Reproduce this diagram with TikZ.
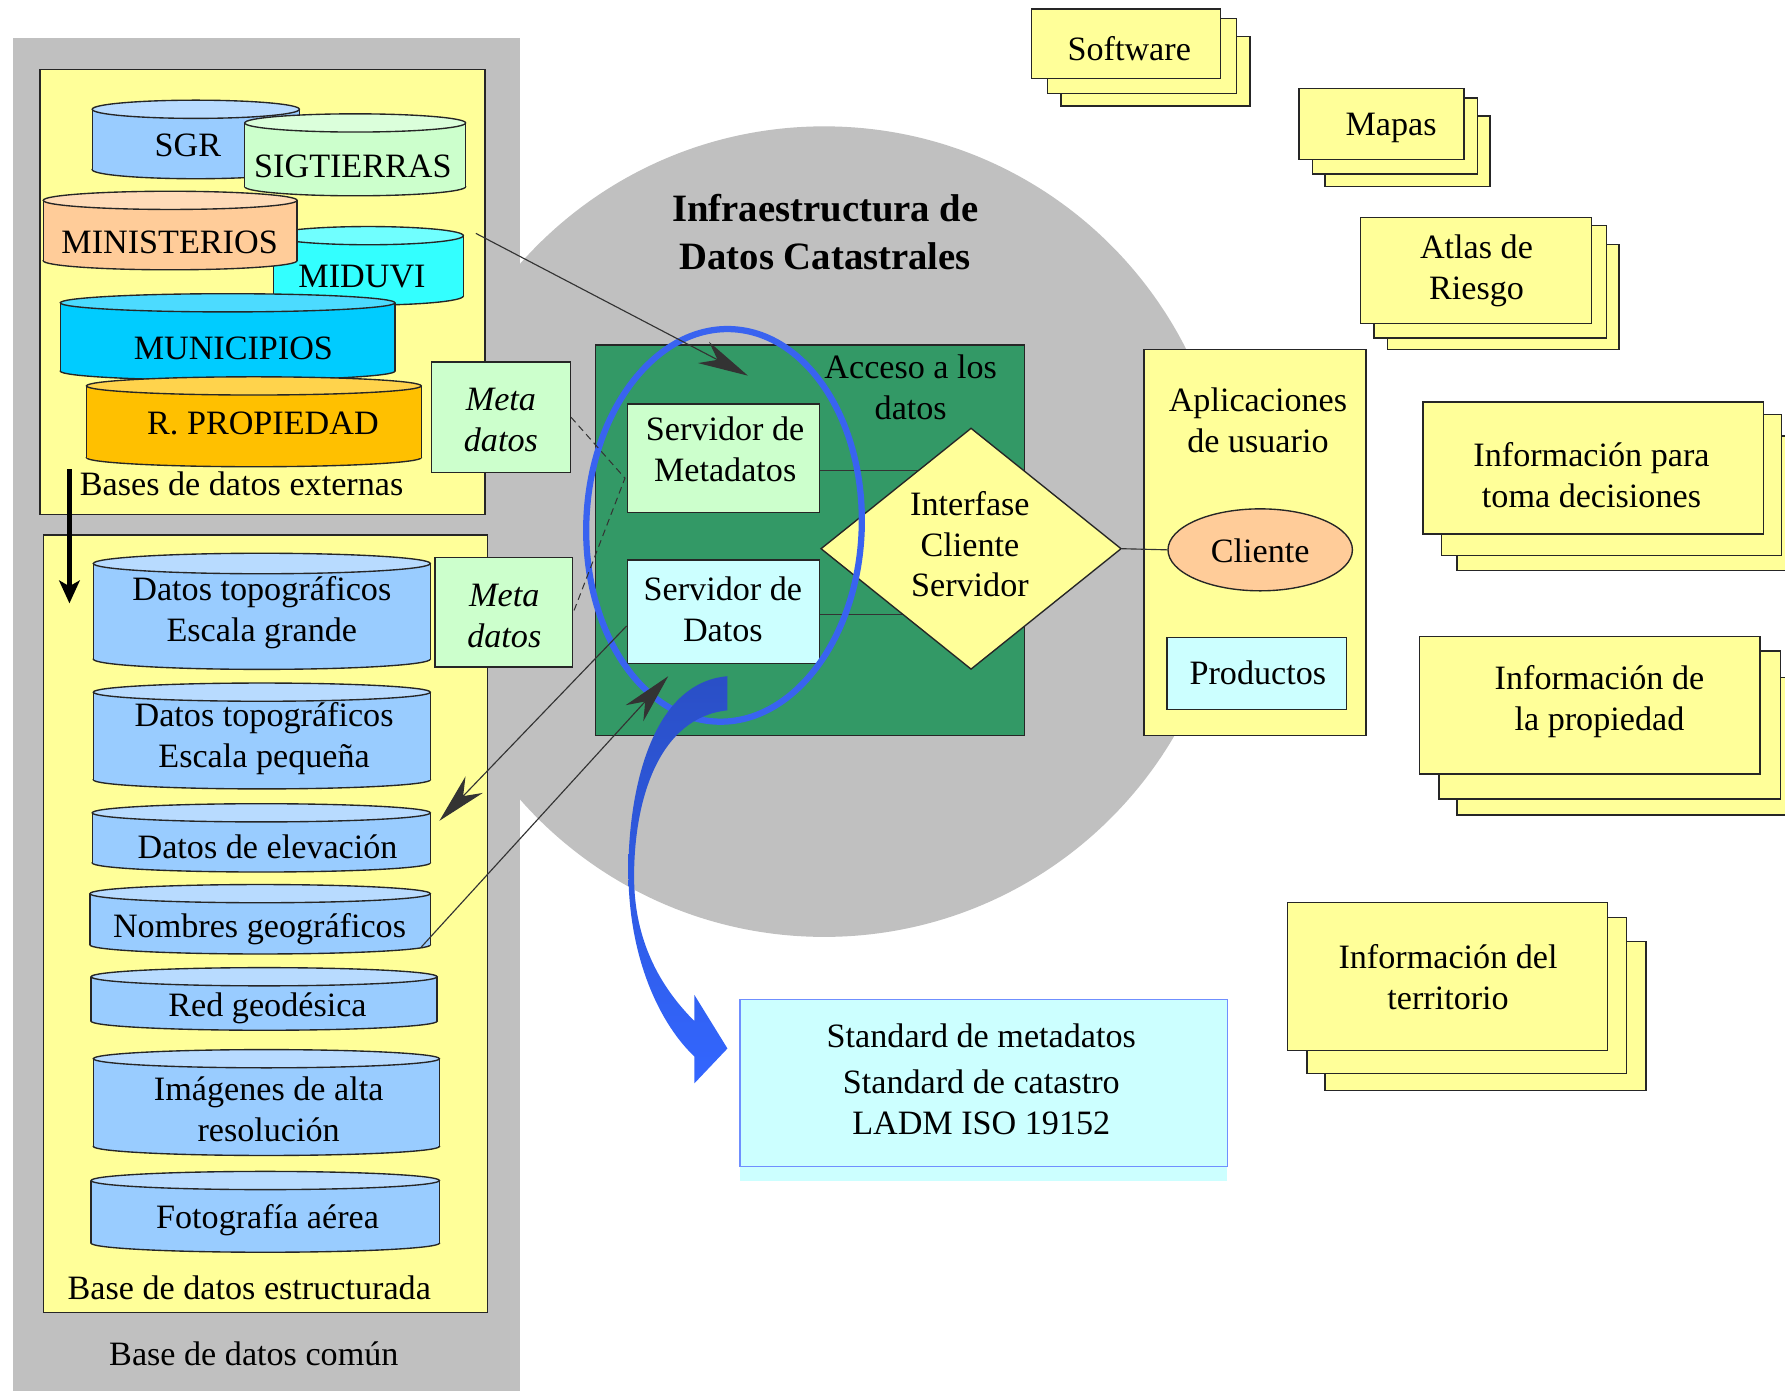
\documentclass[tikz,border=0pt]{standalone}
\usepackage{fontspec}
\setmainfont{Liberation Serif}
\usetikzlibrary{shapes.geometric,arrows.meta,calc}
\definecolor{cyel}{HTML}{FFFF99}
\definecolor{cgreen}{HTML}{CCFFCC}
\definecolor{clcyan}{HTML}{CCFFFF}
\definecolor{cblue}{HTML}{99CCFF}
\definecolor{cpeach}{HTML}{FFCC99}
\definecolor{ccyan}{HTML}{33FFFF}
\definecolor{cmuni}{HTML}{00CCFF}
\definecolor{corange}{HTML}{FFC000}
\definecolor{cdgreen}{HTML}{339966}
\definecolor{cgray}{HTML}{C0C0C0}
\definecolor{cring}{HTML}{3963F0}
\definecolor{carrtop}{HTML}{2A4FC6}
\definecolor{carrbot}{HTML}{3366FF}
\definecolor{cstdline}{HTML}{6F8FFF}
\newcommand\ffsz{\fontsize{30}{36}\selectfont}
\newcommand\dbcyl[6]{%
  \pgfmathsetmacro\cxx{(#1+#2)/2}\pgfmathsetmacro\rxx{(#2-#1)/2}%
  \filldraw[fill=#6, draw=black!85, line width=1.2pt] (\cxx,#4-#5) ellipse[x radius=\rxx, y radius=#5];
  \fill[#6] (#1,#3+#5) rectangle (#2,#4-#5);
  \draw[draw=black!85, line width=1.2pt] (#1,#3+#5) -- (#1,#4-#5) (#2,#3+#5) -- (#2,#4-#5);
  \filldraw[fill=#6!70!white, draw=black!85, line width=1.2pt] (\cxx,#3+#5) ellipse[x radius=\rxx, y radius=#5];
}
\newcommand\backbox[4]{\filldraw[fill=cyel, draw=black!85, line width=1.2pt] (#1,#2) rectangle (#3,#4);}
\begin{document}
\begin{tikzpicture}[x=1pt,y=-1pt,
  box/.style={draw=black!85, line width=1.2pt, inner sep=0pt},
  lbl/.style={font=\ffsz, align=center, inner sep=0pt},
  thinln/.style={line width=1pt, draw=black!80},
  headtip/.style={-{Stealth[length=44pt,width=21pt,inset=14pt]}},
]
\useasboundingbox (0,0) rectangle (1568,1222);
\fill[white] (0,0) rectangle (1568,1222);
% big circle
\fill[cgray] (724,467) circle[radius=356];
% left panel
\node[fill=cgray, minimum width=446pt, minimum height=1189pt, inner sep=0pt] (panel) at (234,627.5) {};
\node[box, fill=cyel, minimum width=391pt, minimum height=391pt] (ext) at (230.5,256.5) {};
\node[box, fill=cyel, minimum width=390pt, minimum height=683pt] (est) at (233,811.5) {};
% external databases
\dbcyl{81}{263}{88}{157}{8}{cblue}
\dbcyl{215}{409}{100}{172}{8}{cgreen}
\dbcyl{240}{407}{199}{268}{8}{ccyan}
\dbcyl{38}{261}{168}{237}{8}{cpeach}
\dbcyl{53}{347}{258}{334}{8}{cmuni}
\dbcyl{76}{370}{331}{410}{8}{corange}
\node[lbl] (tsgr) at (165,128) {SGR};
\node[lbl] (tsig) at (310,146) {SIGTIERRAS};
\node[lbl] (tmin) at (149,213) {MINISTERIOS};
\node[lbl] (tmid) at (318,243) {MIDUVI};
\node[lbl] (tmun) at (205,306) {MUNICIPIOS};
\node[lbl] (trp) at (231,372) {R. PROPIEDAD};
\node[lbl, anchor=west] (text) at (70,425) {Bases de datos externas};
% structured databases
\dbcyl{82}{378}{486}{588}{9}{cblue}
\dbcyl{82}{378}{600}{693}{8}{cblue}
\dbcyl{81}{378}{706}{766}{8}{cblue}
\dbcyl{79}{378}{777}{838}{8}{cblue}
\dbcyl{80}{384}{850}{905}{8}{cblue}
\dbcyl{82}{386}{922}{1015}{8}{cblue}
\dbcyl{80}{386}{1029}{1100}{8}{cblue}
\node[lbl] (c1) at (230,538) {Datos topográficos\\Escala grande};
\node[lbl] (c2) at (232,649) {Datos topográficos\\Escala pequeña};
\node[lbl] (c3) at (235,744) {Datos de elevación};
\node[lbl] (c4) at (228,816) {Nombres geográficos};
\node[lbl] (c5) at (235,886) {Red geodésica};
\node[lbl] (c6) at (236,974) {Imágenes de alta\\resolución};
\node[lbl] (c7) at (235,1072) {Fotografía aérea};
\node[lbl] (test) at (219,1131) {Base de datos estructurada};
\node[lbl] (tcom) at (223,1189) {Base de datos común};
% meta boxes
\node[box, fill=cgreen, minimum width=122pt, minimum height=97pt] (meta1) at (440,366.5) {};
\node[lbl, font=\ffsz\itshape] (meta1t) at (440,369) {Meta\\datos};
\node[box, fill=cgreen, minimum width=121pt, minimum height=96pt] (meta2) at (442.5,538) {};
\node[lbl, font=\ffsz\itshape] (meta2t) at (443,541) {Meta\\datos};
% title
\node[lbl, font=\fontsize{34}{42}\selectfont\bfseries] (title) at (725,204) {Infraestructura de\\Datos Catastrales};
% access box
\node[box, fill=cdgreen, minimum width=377pt, minimum height=343pt] (acc) at (711.5,474.5) {};
\node[lbl] (acct) at (800,340) {Acceso a los\\datos};
\node[box, fill=cgreen, minimum width=169pt, minimum height=95pt] (smeta) at (635.5,402.5) {};
\node[lbl] (smetat) at (637,395) {Servidor de\\Metadatos};
\node[box, fill=clcyan, minimum width=169pt, minimum height=91pt] (sdat) at (635.5,537.5) {};
\node[lbl] (sdatt) at (635,535) {Servidor de\\Datos};
\draw[thinln] ($(smeta.east)+(0,10.5)$) -- ($(smeta.east -| acc.east)+(-60,10.5)$);
\draw[thinln] ($(sdat.east)+(0,2.5)$) -- ($(sdat.east -| acc.east)+(-60,2.5)$);
\node[box, diamond, fill=cyel, minimum width=264pt, minimum height=212pt] (diam) at (853,482) {};
\node[lbl] (diamt) at (852,478) {Interfase\\Cliente\\Servidor};
% user applications
\node[box, fill=cyel, minimum width=195pt, minimum height=339pt] (apps) at (1102.5,476.5) {};
\node[lbl] (appst) at (1105,369) {Aplicaciones\\de usuario};
\node[box, ellipse, fill=cpeach, minimum width=162pt, minimum height=72pt] (cli) at (1107,483) {};
\node[lbl] (clit) at (1107,484) {Cliente};
\draw[thinln] (diam.east) -- (cli.west);
\node[box, fill=clcyan, minimum width=158pt, minimum height=63pt] (prod) at (1104,591.5) {};
\node[lbl] (prodt) at (1105,591) {Productos};
% stacks
\backbox{932}{32}{1098}{93}\backbox{920}{16}{1086}{82}
\node[box, fill=cyel, minimum width=166pt, minimum height=61pt] (soft) at (989,38.5) {};
\node[lbl] (softt) at (992,43) {Software};
\backbox{1164}{102}{1309}{164}\backbox{1153}{86}{1298}{153}
\node[box, fill=cyel, minimum width=145pt, minimum height=62pt] (mapas) at (1213.5,109) {};
\node[lbl] (mapast) at (1222,112) {Mapas};
\backbox{1219}{215}{1422}{307}\backbox{1207}{198}{1411}{297}
\node[box, fill=cyel, minimum width=203pt, minimum height=93pt] (atlas) at (1296.5,237.5) {};
\node[lbl] (atlast) at (1297,238) {Atlas de\\Riesgo};
\backbox{1280}{383}{1579}{501}\backbox{1266}{364}{1565}{488}
\node[box, fill=cyel, minimum width=299pt, minimum height=116pt] (decis) at (1399.5,411) {};
\node[lbl] (decist) at (1398,417) {Información para\\toma decisiones};
\backbox{1280}{595}{1580}{716}\backbox{1264}{572}{1564}{702}
\node[box, fill=cyel, minimum width=299pt, minimum height=121pt] (prop) at (1396.5,619.5) {};
\node[lbl] (propt) at (1405,616) {Información de\\la propiedad};
\backbox{1164}{827}{1446}{958}\backbox{1148}{806}{1429}{943}
\node[box, fill=cyel, minimum width=281pt, minimum height=130pt] (terr) at (1271.5,858) {};
\node[lbl] (terrt) at (1272,858) {Información del\\territorio};
% standards box
\fill[clcyan] (650,1025) rectangle (1078,1037);
\node[draw=cstdline, line width=1pt, fill=clcyan, minimum width=428pt, minimum height=147pt, inner sep=0pt] (std) at (864,951.5) {};
\node[lbl] (stdt) at (862,948) {Standard de metadatos\\[5pt]Standard de catastro\\LADM ISO 19152};
% blue ring
\draw[line width=5.5pt, draw=cring, rotate around={-2:(636,461.5)}] (636,461.5) ellipse[x radius=121, y radius=172.5];
% dashed metadata links
\coordinate (dj) at (549,420);
\draw[line width=0.9pt, draw=black!80, dash pattern=on 6pt off 4pt] (meta1.east) -- (dj) -- (meta2.east);
% thin arrows
\coordinate (a1s) at (418,205);
\coordinate (a1e) at (657,330);
\draw[thinln, headtip] (a1s) -- (a1e);
\coordinate (a2e) at (386,721);
\draw[thinln, headtip] ($(sdat.west)!0.27!(sdat.south west)$) -- (a2e);
\coordinate (a3s) at (370,832);
\coordinate (a3e) at (587,594);
\draw[thinln, headtip] (a3s) -- (a3e);
% thick black arrow
\coordinate (ta1) at (61,412);
\coordinate (ta2) at (61,530);
\draw[line width=4.5pt, -{Stealth[length=20pt,width=18pt,inset=5pt]}] (ta1) -- (ta2);
% blue curved block arrow
\shade[top color=carrtop, bottom color=carrbot]
  (639,594) .. controls (570,600) and (552,700) .. (552,765)
  .. controls (552,845) and (582,902) .. (610,928)
  -- (610,951.6) -- (639,921) -- (610,874) -- (610,897)
  .. controls (575,862) and (557,820) .. (557,770)
  .. controls (557,700) and (580,630) .. (639,624) -- cycle;
\end{tikzpicture}
\end{document}
